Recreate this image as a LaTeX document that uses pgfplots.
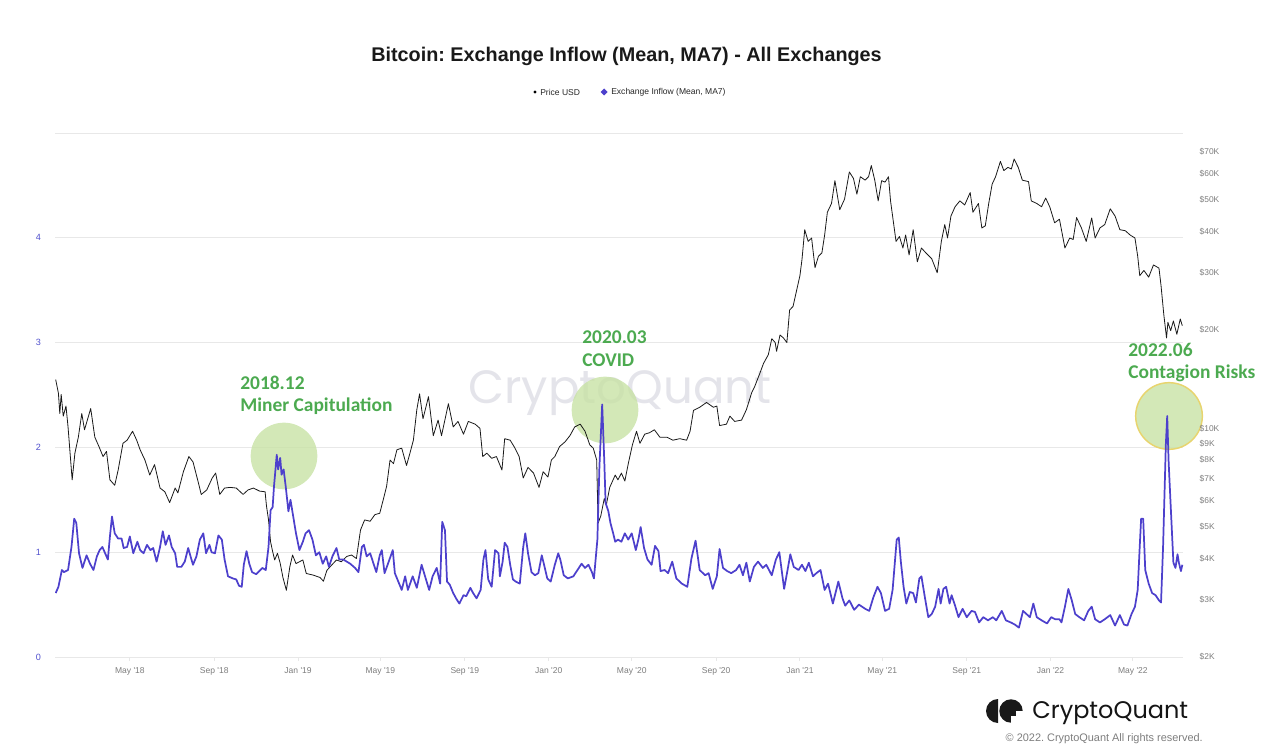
\documentclass[border=0pt]{standalone}
\usepackage{fontspec}
\setmainfont{Liberation Sans}
\newfontfamily\annfont{Carlito}
\newfontfamily\logofont{Poppins}
\usepackage{pgfplots}
\pgfplotsset{compat=1.18}
\usepackage{pgfplotstable}
\frenchspacing

\definecolor{inflowblue}{RGB}{77,64,204}
\definecolor{annogreen}{RGB}{76,170,80}
\definecolor{circfill}{RGB}{200,226,165}
\definecolor{circedge}{RGB}{232,212,110}
\definecolor{gridgrey}{RGB}{232,232,232}
\definecolor{tlgrey}{RGB}{125,125,125}
\definecolor{leftblue}{RGB}{80,80,205}
\definecolor{wm}{RGB}{228,228,234}

% x = days since 2018-01-01
\pgfplotstableread{
d price
12 14100
16 12800
18 11100
20 12700
23 10900
27 11700
30 10100
36 6960
40 8400
45 9400
50 11100
54 9900
63 11500
69 9400
75 8800
81 8200
86 8500
91 6960
98 6700
103 7460
110 9000
116 9200
124 9800
130 9200
135 8600
142 8000
149 7200
156 7750
164 6570
171 6400
178 5930
186 6570
190 6350
198 7370
206 8200
212 7900
220 6800
224 6280
232 6480
240 7050
245 7300
251 6280
258 6570
266 6600
275 6570
285 6280
292 6480
300 6570
309 6430
317 6400
319 5800
322 5250
325 4500
328 4200
331 3960
335 4150
339 3870
343 3500
348 3200
353 3770
357 4100
362 3860
367 3910
372 3960
377 3600
387 3560
397 3500
402 3410
407 3680
414 3820
421 3960
428 3910
436 4060
443 4100
450 4000
456 4890
462 5250
470 5200
477 5450
484 5500
489 6040
494 6650
499 8000
504 7800
509 8600
516 8700
523 7700
528 8400
533 9200
538 11400
542 12750
547 10700
555 12500
562 9500
569 10600
574 9500
584 11900
591 10100
598 10500
606 9600
613 10500
623 10300
630 10000
634 8200
640 8400
647 8100
654 8200
662 7460
666 9300
674 9200
681 8700
687 8200
693 7050
700 7600
708 7300
716 6600
722 7370
729 7100
734 8000
739 8200
746 8800
754 9100
761 9500
768 10100
776 10300
783 9800
790 8900
795 8700
800 8000
802 5130
806 5400
811 6100
814 5830
819 6600
827 7200
831 6960
836 7300
841 6900
846 7800
852 8900
858 9800
863 9000
870 9600
877 9700
884 9900
892 9400
902 9400
911 9200
921 9300
931 9200
936 9800
941 11350
950 11600
960 12000
970 11600
975 11700
979 10200
989 10300
994 10900
1001 10500
1011 10600
1018 11400
1026 12900
1030 13400
1038 14800
1043 15800
1050 16800
1055 18800
1060 18300
1062 17200
1067 19300
1072 18900
1077 18300
1081 23000
1086 23600
1091 26300
1096 29300
1099 32800
1103 40500
1108 37300
1113 38200
1118 31000
1123 33600
1128 34400
1132 39000
1136 45800
1142 48700
1147 57200
1154 46600
1161 50200
1168 60800
1174 58100
1179 52000
1184 58800
1191 57400
1196 58800
1200 63600
1205 57400
1210 49600
1215 57200
1220 56600
1225 58800
1228 49600
1232 43000
1236 37300
1241 38600
1246 35600
1250 39000
1255 33900
1261 40500
1267 32300
1273 35600
1280 34300
1288 33000
1296 29900
1302 37300
1307 42000
1311 38200
1316 44600
1322 47600
1329 49600
1336 48200
1344 52600
1348 45800
1356 48700
1361 41000
1366 41600
1371 48700
1376 55800
1381 58800
1388 65500
1393 61400
1399 62800
1404 62100
1408 66600
1414 62800
1420 57400
1429 56800
1433 49600
1441 48700
1448 47600
1454 50600
1460 47500
1467 42500
1474 43600
1482 35600
1489 38200
1494 37800
1499 44100
1506 41000
1513 37300
1521 44000
1526 38200
1533 41000
1540 42000
1548 46900
1555 44600
1562 40500
1570 40200
1577 39000
1584 38200
1588 33600
1591 29300
1597 30400
1604 29000
1611 31600
1619 30900
1622 27300
1626 22300
1630 18900
1632 21100
1636 19900
1640 21300
1645 19400
1650 21600
1653 20600
}\pricetable

\pgfplotstableread{
d v
12 0.61
16 0.67
21 0.83
24 0.81
30 0.83
35 1.05
39 1.32
42 1.28
46 0.99
51 0.85
57 0.97
62 0.89
67 0.83
72 0.96
76 1.02
80 1.05
84 0.99
88 0.93
91 1.15
94 1.34
98 1.18
103 1.13
108 1.13
111 1.04
116 1.05
120 1.15
125 0.99
131 1.10
135 1.02
140 0.99
145 1.07
150 1.02
154 1.04
159 0.91
164 1.05
168 1.20
172 1.07
177 1.16
181 1.05
186 0.99
189 0.86
195 0.86
200 0.91
205 1.04
208 0.97
212 0.88
217 0.96
222 1.12
227 1.18
231 0.99
236 1.07
239 1.00
244 0.99
249 1.16
254 1.12
258 0.93
263 0.77
270 0.75
275 0.74
279 0.68
283 0.67
286 0.88
290 1.01
294 0.89
298 0.81
304 0.79
313 0.85
318 0.83
322 1.05
325 1.40
328 1.43
330 1.63
334 1.93
336 1.79
339 1.90
341 1.74
344 1.79
347 1.63
351 1.39
354 1.50
358 1.34
362 1.18
367 1.02
372 1.10
376 1.18
381 1.21
386 1.12
391 0.97
396 1.00
401 0.89
406 0.96
410 0.86
415 0.96
421 1.04
425 0.93
431 0.93
436 0.91
441 0.89
448 0.85
453 0.81
458 1.05
461 1.07
465 0.96
470 0.99
475 0.89
479 0.81
484 0.97
487 1.02
491 0.80
496 0.89
503 1.02
506 0.80
511 0.72
516 0.64
521 0.77
525 0.64
532 0.77
538 0.66
545 0.88
550 0.77
556 0.64
561 0.77
567 0.85
572 0.70
575 1.29
579 1.21
582 0.72
586 0.69
591 0.61
596 0.55
600 0.51
606 0.59
610 0.58
616 0.66
620 0.61
625 0.56
631 0.64
635 0.93
638 1.02
642 0.74
647 0.67
652 1.02
657 0.99
659 0.77
663 0.91
666 1.09
670 1.05
674 0.88
678 0.74
682 0.72
688 0.70
693 1.05
696 1.18
700 0.99
705 0.81
710 0.78
715 0.80
720 0.97
723 0.89
728 0.75
733 0.72
739 0.88
744 0.99
747 0.93
752 0.78
758 0.75
766 0.77
772 0.83
778 0.89
783 0.85
788 0.88
793 0.81
796 0.75
801 1.12
804 1.82
808 2.41
811 1.88
813 1.47
817 1.39
820 1.28
824 1.18
827 1.10
831 1.12
836 1.10
841 1.18
846 1.12
851 1.18
857 1.02
861 1.13
864 1.24
869 1.04
874 0.93
880 0.88
885 1.06
890 1.01
893 0.82
899 0.83
904 0.80
910 0.91
916 0.75
924 0.70
932 0.67
938 0.94
944 1.11
950 0.83
958 0.78
963 0.80
969 0.65
975 0.77
979 1.03
984 0.85
990 0.82
996 0.80
1003 0.83
1008 0.88
1013 0.78
1018 0.90
1023 0.72
1029 0.86
1035 0.91
1042 0.85
1047 0.88
1055 0.78
1061 0.93
1066 1.00
1073 0.65
1078 0.83
1082 0.98
1087 0.86
1094 0.83
1099 0.88
1104 0.82
1109 0.90
1115 0.77
1120 0.80
1126 0.83
1132 0.64
1137 0.70
1144 0.51
1152 0.72
1158 0.56
1162 0.49
1168 0.54
1175 0.45
1182 0.50
1191 0.46
1197 0.44
1203 0.57
1209 0.67
1214 0.61
1220 0.44
1226 0.46
1231 0.64
1235 0.96
1237 1.12
1240 1.14
1243 0.91
1247 0.67
1251 0.51
1256 0.62
1261 0.61
1265 0.52
1270 0.75
1273 0.77
1278 0.57
1283 0.38
1288 0.41
1293 0.48
1298 0.65
1301 0.51
1305 0.65
1309 0.67
1314 0.51
1317 0.59
1322 0.49
1327 0.38
1333 0.46
1339 0.38
1346 0.44
1351 0.43
1357 0.33
1363 0.38
1370 0.35
1377 0.38
1382 0.35
1390 0.44
1396 0.35
1403 0.33
1409 0.31
1415 0.28
1421 0.44
1426 0.41
1431 0.38
1436 0.51
1441 0.38
1448 0.35
1456 0.32
1462 0.38
1468 0.36
1474 0.36
1477 0.33
1482 0.48
1487 0.65
1492 0.54
1497 0.41
1503 0.38
1510 0.35
1516 0.44
1521 0.48
1526 0.36
1533 0.33
1540 0.36
1548 0.40
1555 0.30
1562 0.40
1568 0.31
1573 0.30
1579 0.41
1584 0.48
1588 0.64
1591 1.06
1593 1.32
1596 1.32
1599 0.83
1604 0.70
1609 0.61
1614 0.59
1619 0.54
1622 0.52
1625 1.06
1629 2.03
1631 2.30
1633 1.87
1636 1.45
1640 0.90
1643 0.85
1646 0.98
1648 0.90
1651 0.82
1653 0.88
}\inflowtable

\pgfplotsset{
  base/.style={scale only axis, width=846pt, height=393pt,
    xmin=11, xmax=1654, at={(0pt,0pt)}, anchor=south west},
}

\begin{document}
\begin{tikzpicture}
% pixel scope: (px,py) measured from top-left of the 1280x754 canvas
\begin{scope}[shift={(-41.25pt,492.75pt)}, x=0.75pt, y=-0.75pt]
  \useasboundingbox (0,0) rectangle (1280,754);
  \node[text=wm, font=\logofont\fontsize{35}{40}\selectfont, anchor=center] at (620,393) {CryptoQuant};
\end{scope}

% grid + left axis + x ticks
\begin{axis}[base, ymin=0, ymax=5,
  ytick={0,1,2,3,4,5}, yticklabels={0,1,2,3,4,{}},
  ymajorgrids, grid style={gridgrey, line width=0.7pt},
  axis line style={draw=none},
  xtick={120,243,365,485,608,730,851,974,1096,1216,1339,1461,1581},
  xticklabels={May \textquotesingle18,Sep \textquotesingle18,Jan \textquotesingle19,May \textquotesingle19,Sep \textquotesingle19,Jan \textquotesingle20,May \textquotesingle20,Sep \textquotesingle20,Jan \textquotesingle21,May \textquotesingle21,Sep \textquotesingle21,Jan \textquotesingle22,May \textquotesingle22},
  xtick pos=bottom, ytick pos=left, tick align=outside,
  major tick length=3pt,
  xtick style={draw=gridgrey, line width=0.7pt},
  ytick style={draw=none},
  yticklabel style={font=\fontsize{6.8}{8}\selectfont, text=leftblue, xshift=-4pt},
  xticklabel style={font=\fontsize{6.4}{8}\selectfont, text=tlgrey, yshift=-1pt},
]
\addplot[draw=none] coordinates {(11,0) (1654,5)};
\end{axis}

% highlight circles (under the lines)
\begin{scope}[shift={(-41.25pt,492.75pt)}, x=0.75pt, y=-0.75pt]
  \fill[circfill, fill opacity=0.8] (284,456) circle[radius=25pt];
  \fill[circfill, fill opacity=0.8] (605,410) circle[radius=25pt];
  \filldraw[fill=circfill, fill opacity=0.8, draw=circedge, line width=1.1pt] (1169,416) circle[radius=25pt];
\end{scope}

% price axis (right, log)
\begin{axis}[base, ymode=log, ymin=2000, ymax=80000,
  axis y line*=right, axis x line=none,
  axis line style={draw=none},
  ytick={2000,3000,4000,5000,6000,7000,8000,9000,10000,20000,30000,40000,50000,60000,70000},
  yticklabels={\$2K,\$3K,\$4K,\$5K,\$6K,\$7K,\$8K,\$9K,\$10K,\$20K,\$30K,\$40K,\$50K,\$60K,\$70K},
  ytick style={draw=none}, minor tick style={draw=none},
  yticklabel style={font=\fontsize{6.3}{8}\selectfont, text=tlgrey, anchor=west, xshift=9pt},
]
\addplot[black!90, line width=0.6pt, line join=round] table[x=d, y=price]{\pricetable};
\end{axis}

% inflow axis (left scale, hidden)
\begin{axis}[base, ymin=0, ymax=5, hide axis]
\addplot[inflowblue, line width=1.3pt, line join=round] table[x=d, y=v]{\inflowtable};
\end{axis}

% annotations, title, legend, logo
\begin{scope}[shift={(-41.25pt,492.75pt)}, x=0.75pt, y=-0.75pt]
  \node[font=\bfseries\fontsize{14.85}{17}\selectfont, text=black!90] at (626.5,56) {Bitcoin: Exchange Inflow (Mean, MA7) - All Exchanges};

  \fill[black] (535,92) circle[radius=1.3pt];
  \node[anchor=west, inner sep=0pt, font=\fontsize{6.4}{8}\selectfont, text=black!85] at (540,92) {Price USD};
  \fill[inflowblue] (604,88.5) -- (607.5,92) -- (604,95.5) -- (600.5,92) -- cycle;
  \node[anchor=west, inner sep=0pt, font=\fontsize{6.4}{8}\selectfont, text=black!85] at (611,92) {Exchange Inflow (Mean, MA7)};

  \node[anchor=base west, inner sep=0pt, text=annogreen, font=\annfont\bfseries\fontsize{14.6}{17}\selectfont] at (240,389) {2018.12};
  \node[anchor=base west, inner sep=0pt, text=annogreen, font=\annfont\bfseries\fontsize{14.6}{17}\selectfont] at (240,411) {Miner Capitulation};
  \node[anchor=base west, inner sep=0pt, text=annogreen, font=\annfont\bfseries\fontsize{14.6}{17}\selectfont] at (582,343) {2020.03};
  \node[anchor=base west, inner sep=0pt, text=annogreen, font=\annfont\bfseries\fontsize{14.6}{17}\selectfont] at (582,366) {COVID};
  \node[anchor=base west, inner sep=0pt, text=annogreen, font=\annfont\bfseries\fontsize{14.6}{17}\selectfont] at (1128,356) {2022.06};
  \node[anchor=base west, inner sep=0pt, text=annogreen, font=\annfont\bfseries\fontsize{14.6}{17}\selectfont] at (1128,378) {Contagion Risks};

  % logo
  \fill[black!90] (998,699) arc[start angle=90, end angle=270, radius=9pt] -- cycle;
  \fill[black!90] (1011,711) circle[radius=8.8pt];
  \fill[white] (1011,711) rectangle (1024,725);
  \fill[black!90] (1011,711) rectangle (1016,716);
  \node[anchor=base west, inner sep=0pt, text=black!92, font=\logofont\fontsize{18}{20}\selectfont] at (1032,718) {CryptoQuant};
  \node[anchor=east, inner sep=0pt, text=tlgrey, font=\fontsize{8.2}{10}\selectfont] at (1203,739) {\textcopyright\ 2022. CryptoQuant All rights reserved.};
\end{scope}
\end{tikzpicture}
\end{document}
